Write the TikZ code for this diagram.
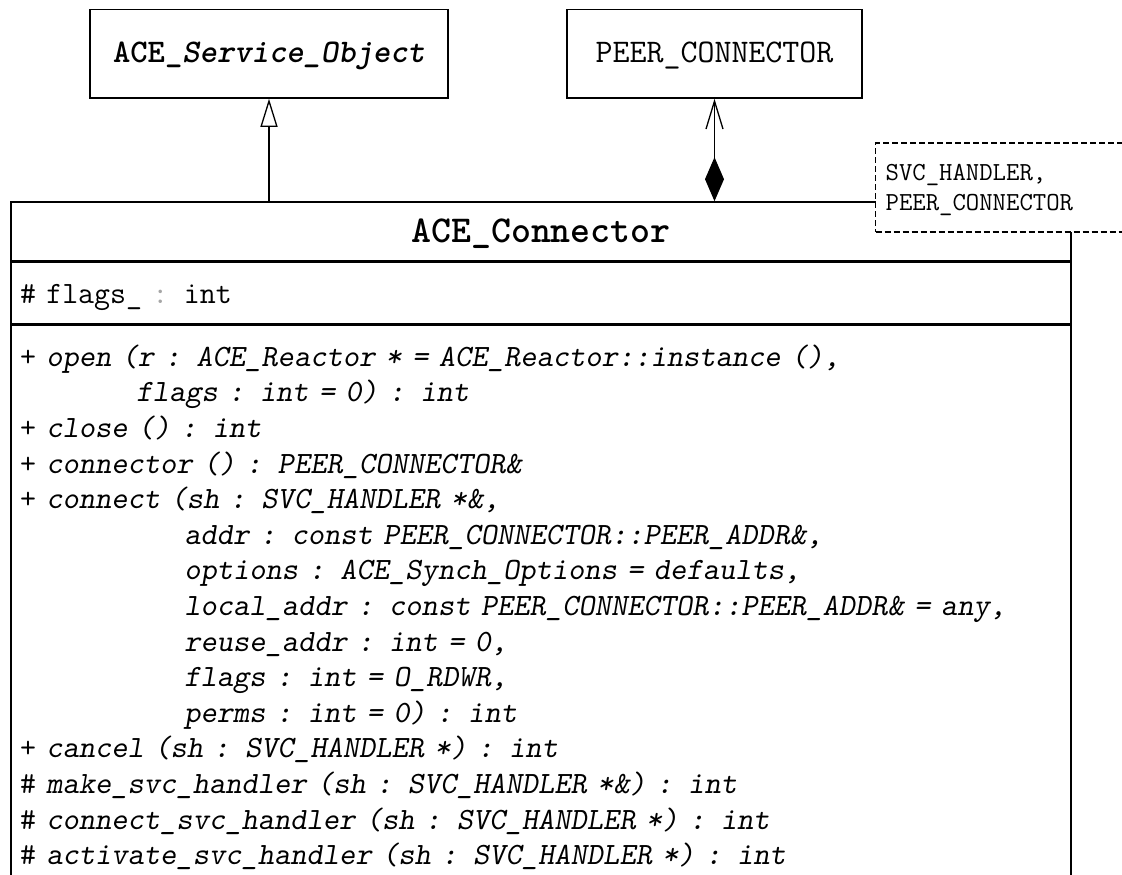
\documentclass[tikz,border=0pt]{standalone}
\usepackage{tikz}
\usetikzlibrary{arrows.meta}
\tikzset{
  umlbox/.style={draw, line width=1.6pt, inner sep=0pt, align=center, font=\fontsize{33}{36}\selectfont\ttfamily},
  compartment/.style={draw, line width=1.6pt, inner xsep=9pt, inner ysep=0pt, text width=1042pt, align=left, font=\fontsize{31}{35.6}\selectfont\ttfamily},
  parambox/.style={draw, dash pattern=on 6pt off 3pt, line width=1.2pt, fill=white, inner xsep=10pt, inner ysep=0pt, text width=275pt, align=left, font=\fontsize{26}{30}\selectfont\ttfamily},
  assoc/.style={line width=1.3pt}
}
\def\op#1{\textsl{#1}}
\begin{document}
\begin{tikzpicture}[x=1pt, y=-1pt]
\useasboundingbox (0,0) rectangle (1122,875);
\fill[white] (0,0) rectangle (1122,875);
\clip (0,0) rectangle (1122,875);

\node[umlbox, text width=358pt, text height=53.5pt, text depth=35pt, anchor=base] (service) at (269,63) {\textbf{ACE\_\textsl{Service\_Object}}};
\node[umlbox, text width=295pt, text height=53.5pt, text depth=35pt, anchor=base] (peer) at (714.5,63) {PEER\_CONNECTOR};

\node[compartment, align=center, font=\fontsize{38}{40}\selectfont\ttfamily\bfseries, text height=40pt, text depth=19pt, anchor=base] (cname) at (541,242) {ACE\_Connector};
\node[compartment, text height=41pt, text depth=20pt, anchor=north] (cattr) at (cname.south) {\# flags\_ {\color{black!35}:} int};
\node[compartment, text height=41pt, text depth=557pt, anchor=north] (cops) at (cattr.south) {%
+ \op{open (r : ACE\_Reactor * = ACE\_Reactor::instance (),}\\
\phantom{+ open (}\op{flags : int = 0) : int}\\
+ \op{close () : int}\\
+ \op{connector () : PEER\_CONNECTOR\&}\\
+ \op{connect (sh : SVC\_HANDLER *\&,}\\
\phantom{+ connect (}\op{addr : const PEER\_CONNECTOR::PEER\_ADDR\&,}\\
\phantom{+ connect (}\op{options : ACE\_Synch\_Options = defaults,}\\
\phantom{+ connect (}\op{local\_addr : const PEER\_CONNECTOR::PEER\_ADDR\& = any,}\\
\phantom{+ connect (}\op{reuse\_addr : int = 0,}\\
\phantom{+ connect (}\op{flags : int = O\_RDWR,}\\
\phantom{+ connect (}\op{perms : int = 0) : int}\\
+ \op{cancel (sh : SVC\_HANDLER *) : int}\\
\# \op{make\_svc\_handler (sh : SVC\_HANDLER *\&) : int}\\
\# \op{connect\_svc\_handler (sh : SVC\_HANDLER *) : int}\\
\# \op{activate\_svc\_handler (sh : SVC\_HANDLER *) : int}};

\node[parambox, text height=37pt, text depth=52pt, anchor=base west] (param) at (875,180) {SVC\_HANDLER,\\PEER\_CONNECTOR};

\draw[assoc, -{Triangle[open, length=28pt, width=17pt, fill=white]}] (cname.north -| service.south) -- (service.south);
\draw[assoc, {Diamond[length=44pt, width=19pt]}-{Straight Barb[length=28pt, width=17pt]}] (cname.north -| peer.south) -- (peer.south);
\end{tikzpicture}
\end{document}
